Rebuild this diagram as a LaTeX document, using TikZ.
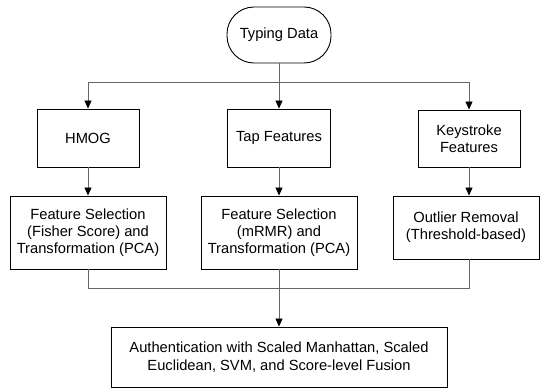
\documentclass[tikz,border=0pt]{standalone}
\usepackage{fontspec}
\setmainfont{Liberation Sans}
\usetikzlibrary{arrows.meta}
\begin{document}
\begin{tikzpicture}[x=1pt,y=-1pt,
  box/.style={draw=black,line width=0.9pt,align=center,inner sep=0pt,font=\fontsize{14.7}{16.8}\selectfont},
  conn/.style={draw=black!60,line width=0.8pt},
  arr/.style={conn,-{Triangle[length=8pt,width=7pt,color=black]}}]
\useasboundingbox (0,0) rectangle (540,390);
\node[box,minimum width=104pt,minimum height=56pt,rounded corners=27pt] (td) at (279,35) {Typing Data};
\node[box,minimum width=102pt,minimum height=58pt] (hmog) at (88,138) {HMOG};
\node[box,minimum width=103pt,minimum height=58pt] (tap) at (279,138) {Tap Features};
\node[box,minimum width=102pt,minimum height=57pt] (key) at (469,138.5) {Keystroke\\Features};
\node[box,minimum width=156pt,minimum height=73pt] (fs1) at (88,232.5) {Feature Selection\\(Fisher Score) and\\Transformation (PCA)};
\node[box,minimum width=156pt,minimum height=73pt] (fs2) at (279,232.5) {Feature Selection\\(mRMR) and\\Transformation (PCA)};
\node[box,minimum width=146pt,minimum height=63pt] (out) at (466,227.5) {Outlier Removal\\(Threshold-based)};
\node[box,minimum width=336pt,minimum height=60pt,font=\fontsize{14.7}{18}\selectfont] (auth) at (279,357) {Authentication with Scaled Manhattan, Scaled\\Euclidean, SVM, and Score-level Fusion};
\coordinate (top) at (279,82);
\coordinate (bot) at (279,288);
\draw[conn] (hmog.north |- top) -- (key.north |- top);
\draw[arr] (td.south) -- (tap.north);
\draw[arr] (hmog.north |- top) -- (hmog.north);
\draw[arr] (key.north |- top) -- (key.north);
\draw[arr] (hmog.south) -- (fs1.north);
\draw[arr] (tap.south) -- (fs2.north);
\draw[arr] (key.south) -- (key.south |- out.north);
\draw[conn] (fs1.south) -- (fs1.south |- bot) -- (key.south |- bot) -- (key.south |- out.south);
\draw[arr] (fs2.south) -- (auth.north);
\end{tikzpicture}
\end{document}
